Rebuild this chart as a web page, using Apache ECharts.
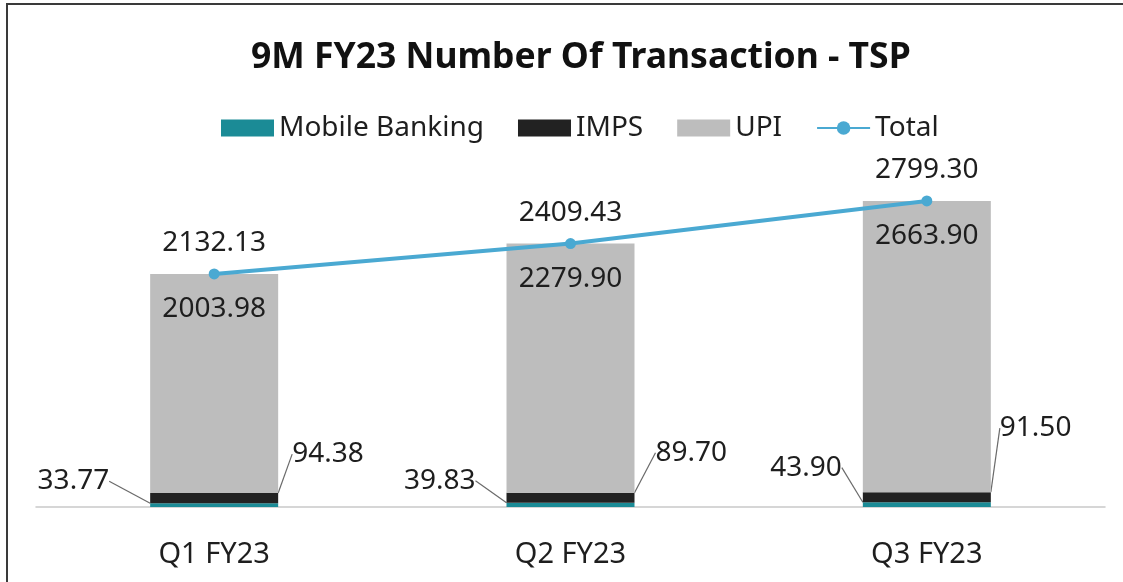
<!DOCTYPE html>
<html>
<head>
<meta charset="utf-8">
<title>9M FY23 Number Of Transaction - TSP</title>
<script src="https://cdn.jsdelivr.net/npm/echarts@6/dist/echarts.min.js"></script>
<style>
  html, body { margin: 0; padding: 0; background: #fff; }
  .box { position: relative; width: 1123px; height: 582px; }
  .chart { width: 100%; height: 100%; }
  /* scanned frame: only top and left edges visible */
  .frame {
    position: absolute; left: 6px; top: 3px; right: -10px; bottom: -10px;
    border-left: 2px solid #3a3a3a; border-top: 2px solid #3a3a3a;
    pointer-events: none;
  }
</style>
</head>
<body>
<div class="box">
  <div class="chart" id="main"></div>
  <div class="frame"></div>
</div>
<script>
// data
const quarters = ["Q1 FY23", "Q2 FY23", "Q3 FY23"];
const mobileBanking = [33.77, 39.83, 43.9];
const imps = [94.38, 89.7, 91.5];
const upi = [2003.98, 2279.9, 2663.9];
const total = [2132.13, 2409.43, 2799.3];

const font = "Noto Sans";
const textColor = "#1e1e1e";

// offsets of the outside callouts (per quarter)
const mbOffset = [[-5, -24], [5, -24], [15, -37]];
const impsOffset = [[-2, -44], [5, -45], [-7, -69]];

const chart = echarts.init(document.getElementById("main"));
chart.setOption({
  backgroundColor: "#fff",
  animation: false,
  color: ["#1b8b96", "#222222", "#bdbdbd", "#4aa9d2"],
  title: {
    text: "9M FY23 Number Of Transaction - TSP",
    left: 246,
    top: 35,
    textStyle: { fontFamily: font, fontSize: 35.5, fontWeight: "bold", color: "#111" },
  },
  legend: {
    top: 109,
    left: 216,
    itemWidth: 53,
    itemHeight: 17,
    itemGap: 34,
    textStyle: { fontFamily: font, fontSize: 28, color: textColor },
    data: [
      { name: "Mobile Banking", icon: "rect" },
      { name: "IMPS", icon: "rect" },
      { name: "UPI", icon: "rect" },
      { name: "Total" },
    ],
  },
  grid: { left: 36, right: 18, top: 179, bottom: 75 },
  xAxis: {
    type: "category",
    data: quarters,
    axisTick: { show: false },
    axisLine: { lineStyle: { color: "#c9c9c9", width: 1.5 } },
    axisLabel: { fontFamily: font, fontSize: 29, color: textColor, margin: 33 },
  },
  yAxis: {
    type: "value",
    min: 0,
    max: 3000,
    show: false,
    splitLine: { show: false },
  },
  series: [
    {
      name: "Mobile Banking",
      type: "bar",
      stack: "tx",
      barWidth: 128,
      data: mobileBanking,
      label: {
        show: true,
        position: "left",
        distance: 36,
        formatter: (p) => p.value.toFixed(2),
        fontFamily: font, fontSize: 28, color: textColor,
      },
      labelLayout: (p) => ({ dx: mbOffset[p.dataIndex][0], dy: mbOffset[p.dataIndex][1] }),
      labelLine: { show: true, lineStyle: { color: "#6a6a6a", width: 1.2 } },
    },
    {
      name: "IMPS",
      type: "bar",
      stack: "tx",
      data: imps,
      label: {
        show: true,
        position: "right",
        distance: 16,
        formatter: (p) => p.value.toFixed(2),
        fontFamily: font, fontSize: 28, color: textColor,
      },
      labelLayout: (p) => ({ dx: impsOffset[p.dataIndex][0], dy: impsOffset[p.dataIndex][1] }),
      labelLine: { show: true, lineStyle: { color: "#6a6a6a", width: 1.2 } },
    },
    {
      name: "UPI",
      type: "bar",
      stack: "tx",
      data: upi,
      label: {
        show: true,
        position: "insideTop",
        distance: 21,
        formatter: (p) => p.value.toFixed(2),
        fontFamily: font, fontSize: 28, color: textColor,
      },
    },
    {
      name: "Total",
      type: "line",
      data: total,
      symbol: "circle",
      symbolSize: 11,
      lineStyle: { width: 4 },
      label: {
        show: true,
        position: "top",
        distance: 11,
        formatter: (p) => p.value.toFixed(2),
        fontFamily: font, fontSize: 28, color: textColor,
      },
      z: 5,
    },
  ],
});
</script>
</body>
</html>
